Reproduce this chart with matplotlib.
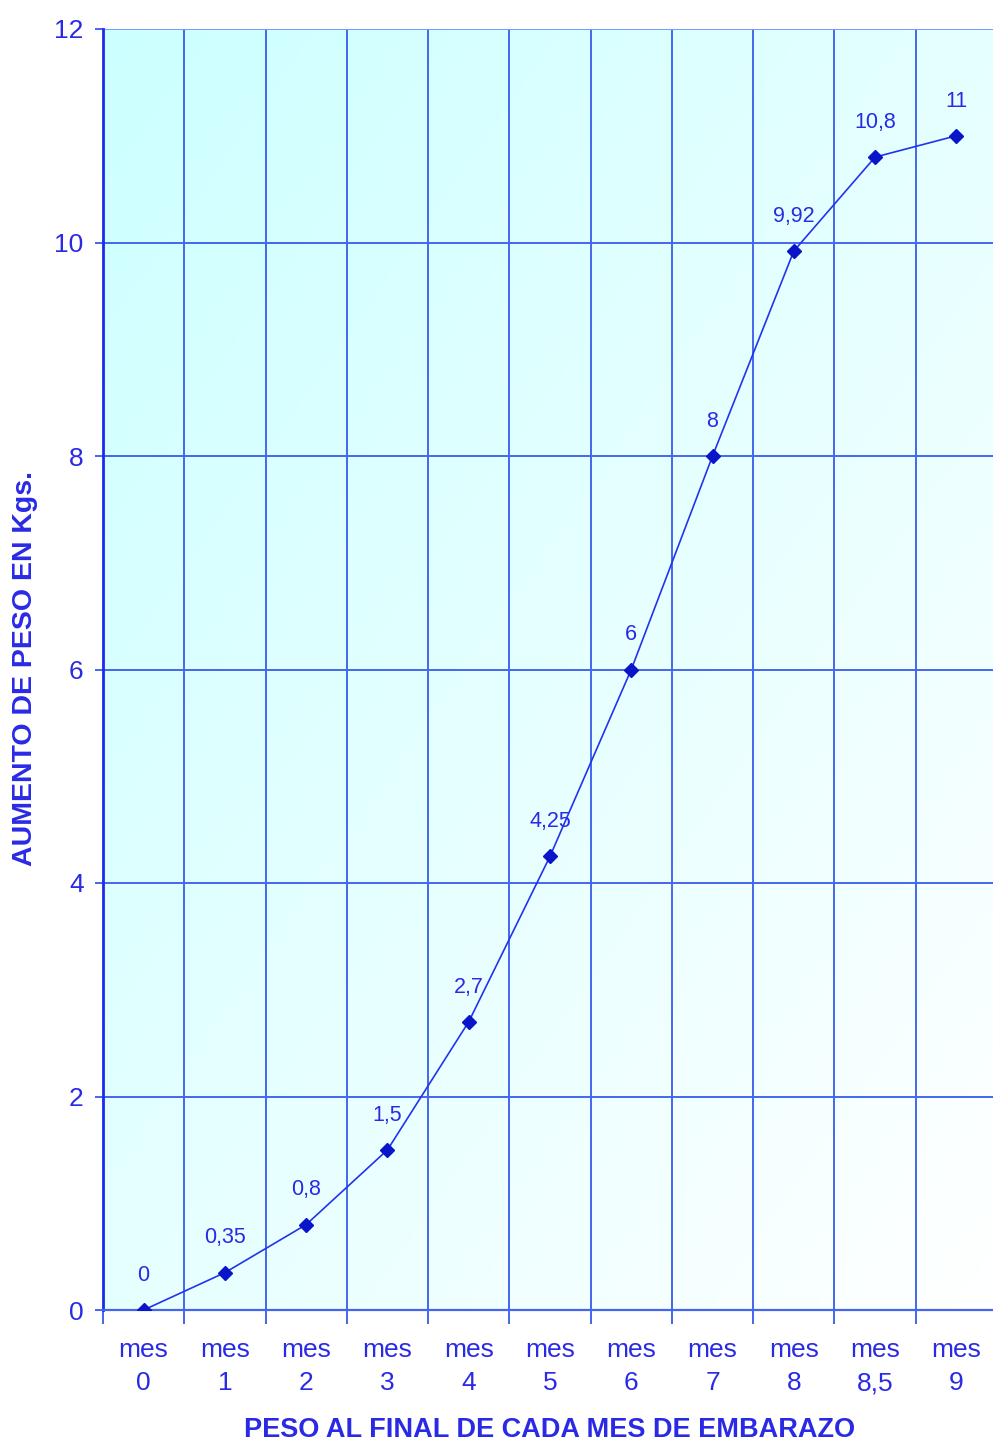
import numpy as np
import matplotlib.pyplot as plt
from matplotlib.colors import LinearSegmentedColormap

plt.rcParams['font.family'] = ['Liberation Sans', 'DejaVu Sans']

# Weight gain at the end of each month of pregnancy
meses = ['0', '1', '2', '3', '4', '5', '6', '7', '8', '8,5', '9']
aumento = [0, 0.35, 0.8, 1.5, 2.7, 4.25, 6, 8, 9.92, 10.8, 11]
etiquetas = ['0', '0,35', '0,8', '1,5', '2,7', '4,25', '6', '8', '9,92', '10,8', '11']

TEXT_BLUE = '#2a2ae6'
GRID_BLUE = '#4466ee'
LINE_BLUE = '#2233ee'
MARK_BLUE = '#0a14c8'

W, H = 993, 1444
fig = plt.figure(figsize=(W / 100, H / 100), dpi=100)
ax = fig.add_axes([103 / W, 1 - 1310 / H, (997 - 103) / W, (1310 - 29) / H])

n = len(meses)
x = np.arange(n)
ax.set_xlim(-0.5, n - 0.5)
ax.set_ylim(0, 12)

# corner-to-corner fill: cyan at top left fading to white at bottom right
cmap = LinearSegmentedColormap.from_list('bg', ['#ccffff', '#ffffff'])
gx, gy = np.meshgrid(np.linspace(0, 1, 200), np.linspace(0, 1, 200))
grad = gx + gy
ax.imshow(grad, extent=(-0.5, n - 0.5, 0, 12), origin='upper', aspect='auto',
          cmap=cmap, vmin=0, vmax=2, zorder=0)

# gridlines on category boundaries and y ticks
for b in np.arange(-0.5, n, 1.0)[1:]:
    ax.axvline(b, color=GRID_BLUE, lw=1.4, zorder=1)
for yv in range(2, 12, 2):
    ax.axhline(yv, color=GRID_BLUE, lw=1.4, zorder=1)
ax.axhline(12, color='#7799ff', lw=1.4, zorder=1)

ax.plot(x, aumento, color=LINE_BLUE, lw=1.2, zorder=3)
ax.plot(x, aumento, linestyle='none', marker='D', ms=7, color=MARK_BLUE, zorder=4)

for xi, yi, lab in zip(x, aumento, etiquetas):
    ax.annotate(lab, (xi, yi), xytext=(0, 25), textcoords='offset points',
                ha='center', va='center', fontsize=15.5, color=TEXT_BLUE, zorder=5)

for side in ['top', 'right']:
    ax.spines[side].set_visible(False)
ax.spines['left'].set_color('#1a2af0')
ax.spines['left'].set_linewidth(2)
ax.spines['bottom'].set_color(GRID_BLUE)
ax.spines['bottom'].set_linewidth(1.6)

ax.set_yticks(range(0, 13, 2))
ax.tick_params(axis='y', colors=GRID_BLUE, labelcolor=TEXT_BLUE, labelsize=19,
               length=6, width=1.4, pad=8)
ax.set_xticks(np.arange(-0.5, n, 1.0), minor=False)
ax.set_xticklabels([])
ax.tick_params(axis='x', colors=GRID_BLUE, length=10, width=1.4, direction='out')
ax.set_xticks(x, minor=True)
ax.set_xticklabels(['mes\n' + m for m in meses], minor=True)
ax.tick_params(axis='x', which='minor', length=0, labelsize=19, labelcolor=TEXT_BLUE,
               pad=20)
for t in ax.get_xticklabels(minor=True):
    t.set_linespacing(1.5)

fig.text(550 / W, 1 - 1430 / H, 'PESO AL FINAL DE CADA MES DE EMBARAZO',
         ha='center', va='center', fontsize=19.5, fontweight='bold', color=TEXT_BLUE)
fig.text(25 / W, 1 - 668 / H, 'AUMENTO DE PESO EN Kgs.', rotation=90,
         ha='center', va='center', fontsize=20.5, fontweight='bold', color=TEXT_BLUE)

fig.savefig('out.png', dpi=100)
